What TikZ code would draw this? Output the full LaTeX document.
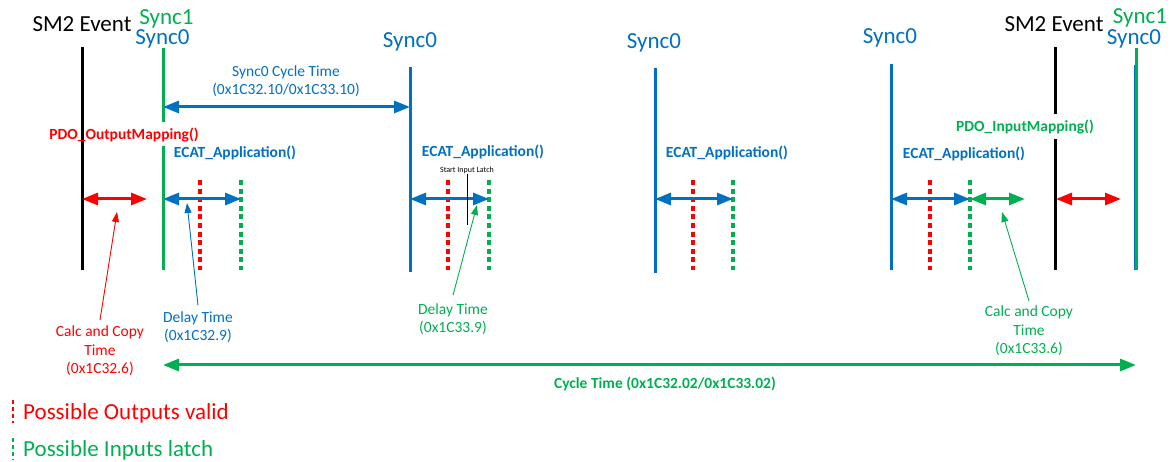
\documentclass[tikz,border=0pt]{standalone}
\usepackage{fontspec}
\setmainfont{Carlito}
\usetikzlibrary{arrows.meta}
\definecolor{cblue}{RGB}{0,112,192}
\definecolor{cgreen}{RGB}{0,176,80}
\definecolor{cred}{RGB}{255,0,0}
\begin{document}
\begin{tikzpicture}[x=1pt,y=-1pt,
 big/.style={font=\fontsize{23}{26}\selectfont, inner sep=0pt},
 small/.style={font=\fontsize{15.5}{18.5}\selectfont, inner sep=0pt, align=center},
 smallb/.style={font=\fontsize{15.5}{18.5}\selectfont\bfseries, inner sep=0pt},
 tiny/.style={font=\fontsize{8}{9}\selectfont, inner sep=0pt},
 legend/.style={font=\fontsize{23}{26}\selectfont, inner sep=0pt, anchor=west},
 vline/.style={line width=3pt},
 dline/.style={line width=3.3pt, dash pattern=on 5pt off 3.6pt},
 dbl/.style={line width=3pt, {Triangle[length=16pt,width=12pt]}-{Triangle[length=16pt,width=12pt]}},
 callout/.style={line width=0.9pt, -{Triangle[length=10pt,width=7pt]}},
]
\useasboundingbox (0,0) rectangle (1171,462);

% headers
\node[big] (sm2a) at (82,24) {SM2 Event};
\node[big, text=cgreen] (s1a) at (166.5,18.5) {Sync1};
\node[big, text=cblue] (s0a) at (162.5,39) {Sync0};
\node[big, text=cblue] (s0b) at (410,42) {Sync0};
\node[big, text=cblue] (s0c) at (654,43) {Sync0};
\node[big, text=cblue] (s0d) at (890,38) {Sync0};
\node[big] (sm2b) at (1054,24) {SM2 Event};
\node[big, text=cgreen] (s1b) at (1140,17.5) {Sync1};
\node[big, text=cblue] (s0e) at (1134,39) {Sync0};

% vertical lines
\coordinate (k1t) at (82,47); \coordinate (k1b) at (82,270);
\draw[vline] (k1t) -- (k1b);
\coordinate (g1t) at (163,48); \coordinate (g1m) at (163,122);
\coordinate (g1n) at (163,146); \coordinate (g1b) at (163,270);
\draw[vline, cgreen] (g1t) -- (g1m);
\draw[vline, cgreen] (g1n) -- (g1b);
\coordinate (b2t) at (410,67); \coordinate (b2b) at (410,272);
\draw[vline, cblue] (b2t) -- (b2b);
\coordinate (b3t) at (655,68); \coordinate (b3b) at (655,273);
\draw[vline, cblue] (b3t) -- (b3b);
\coordinate (b4t) at (891,64); \coordinate (b4b) at (891,270);
\draw[vline, cblue] (b4t) -- (b4b);
\coordinate (k2t) at (1055,47); \coordinate (k2m) at (1055,114);
\coordinate (k2n) at (1055,139); \coordinate (k2b) at (1055,270);
\draw[vline] (k2t) -- (k2m);
\draw[vline] (k2n) -- (k2b);
\coordinate (g5t) at (1136,48); \coordinate (g5b) at (1136,270);
\draw[vline, cgreen] (g5t) -- (g5b);
\coordinate (b5t) at (1134.5,65); \coordinate (b5b) at (1134.5,270);
\draw[line width=1.6pt, cblue] (b5t) -- (b5b);

% sync0 cycle time
\coordinate (sc1) at (163,107); \coordinate (sc2) at (410,107);
\draw[dbl, cblue] (sc1) -- (sc2);
\node[small, text=cblue] (sctl) at (286,81) {Sync0 Cycle Time\\(0x1C32.10/0x1C33.10)};

% function labels
\node[smallb, text=cred] (pdoo) at (124,135) {PDO\_OutputMapping()};
\node[smallb, text=cgreen] (pdoi) at (1025,127) {PDO\_InputMapping()};
\node[smallb, text=cblue] (ea1) at (235,153) {ECAT\_Application()};
\node[smallb, text=cblue] (ea2) at (483,152) {ECAT\_Application()};
\node[smallb, text=cblue] (ea3) at (727,153) {ECAT\_Application()};
\node[smallb, text=cblue] (ea4) at (964,154) {ECAT\_Application()};

% dashed markers
\foreach \n/\x in {r1/200, r2/448, r3/693, r4/930}{
  \coordinate (\n t) at (\x,180); \coordinate (\n b) at (\x,270);
  \draw[dline, cred] (\n t) -- (\n b);
}
\foreach \n/\x in {q1/241, q2/489, q3/733, q4/970}{
  \coordinate (\n t) at (\x,180); \coordinate (\n b) at (\x,270);
  \draw[dline, cgreen] (\n t) -- (\n b);
}

% double arrows
\coordinate (ra1) at (82,199); \coordinate (ra2) at (147,199);
\draw[dbl, cred] (ra1) -- (ra2);
\coordinate (ba1) at (163,199); \coordinate (ba2) at (241,199);
\draw[dbl, cblue] (ba1) -- (ba2);
\coordinate (ba3) at (410,199); \coordinate (ba4) at (489,199);
\draw[dbl, cblue] (ba3) -- (ba4);
\coordinate (ba5) at (655,199); \coordinate (ba6) at (733,199);
\draw[dbl, cblue] (ba5) -- (ba6);
\coordinate (ba7) at (891,199); \coordinate (ba8) at (970,199);
\draw[dbl, cblue] (ba7) -- (ba8);
\coordinate (ga1) at (970,199); \coordinate (ga2) at (1025,199);
\draw[dbl, cgreen] (ga1) -- (ga2);
\coordinate (ra3) at (1056,199); \coordinate (ra4) at (1121,199);
\draw[dbl, cred] (ra3) -- (ra4);

% start input latch
\node[tiny] (sil) at (467,170) {Start Input Latch};
\coordinate (silb) at (467,225);
\draw[line width=0.8pt] (sil.south) -- (silb);

% callouts
\node[small, text=cred, outer sep=6pt] (ccr) at (100,351) {Calc and Copy\\Time\\(0x1C32.6)};
\coordinate (ccrt) at (117,212);
\draw[callout, cred] (ccr.north) -- (ccrt);
\node[small, text=cblue, outer sep=6pt] (dtb) at (198,327) {Delay Time\\(0x1C32.9)};
\coordinate (dtbt) at (187,203);
\draw[callout, cblue] (dtb.north) -- (dtbt);
\node[small, text=cgreen, outer sep=8pt] (dtg) at (453,319) {Delay Time\\(0x1C33.9)};
\coordinate (dtgt) at (477,205);
\draw[callout, cgreen] (dtg.north) -- (dtgt);
\node[small, text=cgreen, outer sep=5pt] (ccg) at (1029,331) {Calc and Copy\\Time\\(0x1C33.6)};
\coordinate (ccgt) at (1002,212);
\draw[callout, cgreen] (ccg.north) -- (ccgt);

% cycle time
\coordinate (ct1) at (163,365); \coordinate (ct2) at (1136,365);
\draw[dbl, cgreen] (ct1) -- (ct2);
\node[smallb, text=cgreen] (ctl) at (665,384) {Cycle Time (0x1C32.02/0x1C33.02)};

% legend
\coordinate (lr1) at (13,400); \coordinate (lr2) at (13,423);
\draw[line width=2.8pt, cred, dash pattern=on 4pt off 3pt] (lr1) -- (lr2);
\node[legend, text=cred] (lgr) at (23,413) {Possible Outputs valid};
\coordinate (lg1) at (13,438); \coordinate (lg2) at (13,460);
\draw[line width=2.8pt, cgreen, dash pattern=on 4pt off 3pt] (lg1) -- (lg2);
\node[legend, text=cgreen] (lgg) at (23,450) {Possible Inputs latch};
\end{tikzpicture}
\end{document}
